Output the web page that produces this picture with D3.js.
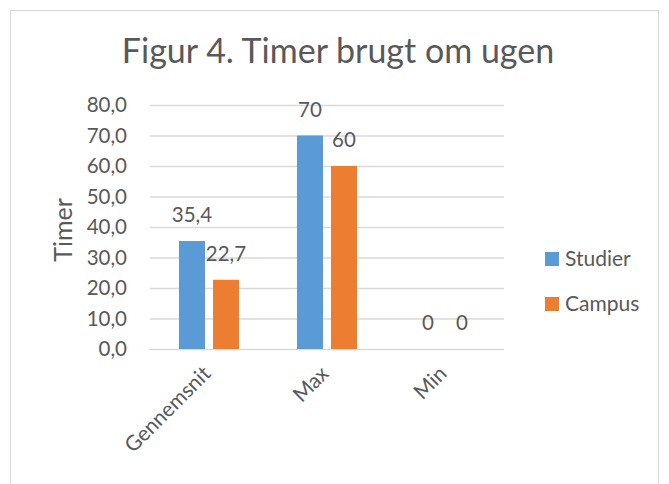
<!DOCTYPE html>
<html><head><meta charset="utf-8">
<script src="https://cdn.jsdelivr.net/npm/d3@7"></script>
<style>body{margin:0;background:#fff}svg{display:block}text{font-family:Lato,"Open Sans",sans-serif;fill:#595959}</style>
</head><body><svg width="669" height="484"></svg>
<script>
const categories = ["Gennemsnit", "Max", "Min"];
const seriesNames = ["Studier", "Campus"];
const studier = [35.4, 70, 0];
const campus = [22.7, 60, 0];
const studierLabels = ["35,4", "70", "0"];
const campusLabels = ["22,7", "60", "0"];
const yTicks = [0, 10, 20, 30, 40, 50, 60, 70, 80];
const colors = ["#5B9BD5", "#ED7D31"];

const svg = d3.select("svg");
svg.append("rect").attr("x", 10.5).attr("y", 10.5).attr("width", 648).attr("height", 490)
  .attr("fill", "#fff").attr("stroke", "#D9D9D9");

svg.append("text").attr("x", 338).attr("y", 63).attr("text-anchor", "middle")
  .style("font-size", "34px").text("Figur 4. Timer brugt om ugen");

const x = d3.scaleBand().domain(categories).range([150, 504]).padding(0);
const xi = d3.scaleBand().domain(seriesNames).range([0, 60]).paddingInner(8/34).paddingOuter(0);
const y = d3.scaleLinear().domain([0, 80]).range([349, 105]);

const fmt = v => d3.format(".1f")(v).replace(".", ",");
const yAxis = svg.append("g").attr("transform", "translate(150,0)")
  .call(d3.axisLeft(y).tickValues(yTicks).tickFormat(fmt).tickSize(-354).tickPadding(23));
yAxis.select(".domain").remove();
yAxis.selectAll("line").attr("stroke", "#D9D9D9").attr("stroke-width", 1.5);
yAxis.selectAll("text").style("font-size", "20.5px").attr("fill", "#595959").style("font-family", "Lato");

svg.append("text").attr("transform", "translate(72,230) rotate(-90)").attr("text-anchor", "middle")
  .style("font-size", "25px").text("Timer");

const series = [studier, campus];
const labels = [studierLabels, campusLabels];
series.forEach((vals, si) => {
  const g = svg.append("g");
  g.selectAll("rect").data(categories).join("rect")
    .attr("x", c => x(c) + 29 + xi(seriesNames[si]))
    .attr("width", xi.bandwidth())
    .attr("y", (c, i) => y(vals[i]))
    .attr("height", (c, i) => y(0) - y(vals[i]))
    .attr("fill", colors[si]);
  g.selectAll("text").data(categories).join("text")
    .attr("x", c => x(c) + 29 + xi(seriesNames[si]) + xi.bandwidth() / 2)
    .attr("y", (c, i) => y(vals[i]) - 19)
    .attr("text-anchor", "middle").style("font-size", "20.5px")
    .text((c, i) => labels[si][i]);
});

const xAxis = svg.append("g").attr("transform", "translate(0,349)")
  .call(d3.axisBottom(x).tickSize(0).tickPadding(0));
xAxis.select(".domain").remove();
xAxis.selectAll("text").attr("text-anchor", "end").attr("fill", "#595959")
  .style("font-size", "21px").style("font-family", "Lato")
  .attr("dy", 0).attr("transform", "translate(3,26) rotate(-45)");

const leg = svg.append("g");
seriesNames.forEach((n, i) => {
  leg.append("rect").attr("x", 545).attr("y", 252 + i * 45).attr("width", 14).attr("height", 14).attr("fill", colors[i]);
  leg.append("text").attr("x", 565).attr("y", 266 + i * 45).style("font-size", "21px").text(n);
});
</script></body></html>
